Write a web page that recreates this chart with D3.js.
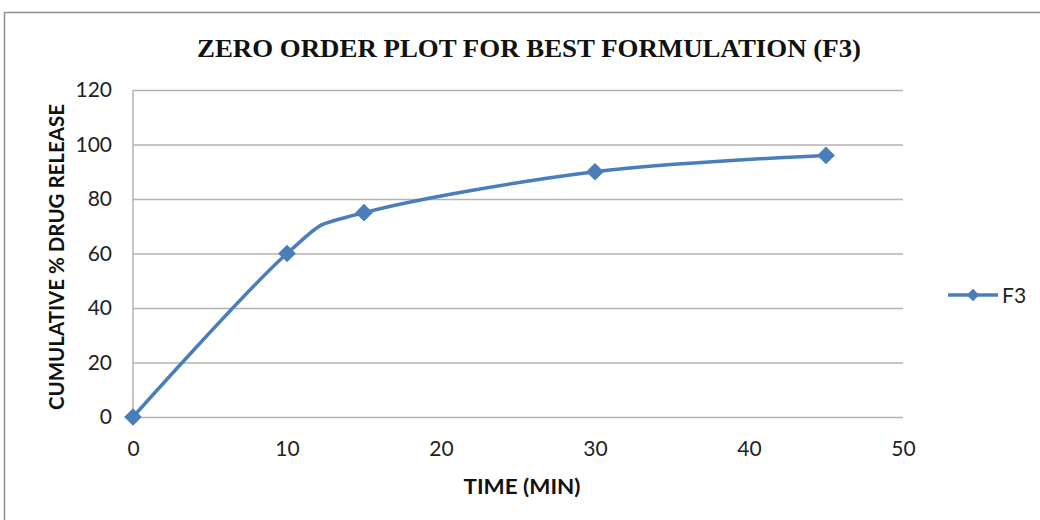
<!DOCTYPE html>
<html>
<head>
<meta charset="utf-8">
<script src="https://cdn.jsdelivr.net/npm/d3@7"></script>
<style>
  html, body { margin: 0; padding: 0; background: #fff; }
  svg { display: block; }
</style>
</head>
<body>
<svg id="chart" width="1040" height="520"></svg>
<script>
// Release profile of formulation F3
const timeMin = [0, 10, 15, 30, 45];
const releasePct = [0, 60, 75, 90, 96];
const xTicks = [0, 10, 20, 30, 40, 50];
const yTicks = [0, 20, 40, 60, 80, 100, 120];
const seriesName = "F3";

const svg = d3.select("#chart");
const W = 1040, H = 520;
const plot = { left: 133, right: 903, top: 90, bottom: 417 };
const blue = "#4a7ebb";
const gridColor = "#b3b3b3";
const tickFont = "Lato, 'Open Sans', sans-serif";

svg.append("rect").attr("width", W).attr("height", H).attr("fill", "#fff");

// outer chart frame
svg.append("path")
  .attr("d", `M4.5,${H} L4.5,12.5 L${W},12.5`)
  .attr("fill", "none").attr("stroke", "#8c8c8c").attr("stroke-width", 1.5);

const x = d3.scaleLinear().domain([0, 50]).range([plot.left, plot.right]);
const y = d3.scaleLinear().domain([0, 120]).range([plot.bottom, plot.top]);

// horizontal gridlines
svg.append("g")
  .attr("transform", `translate(${plot.left},0)`)
  .call(d3.axisLeft(y).tickValues(yTicks).tickSize(-(plot.right - plot.left)).tickFormat(""))
  .call(g => g.select(".domain").remove())
  .call(g => g.selectAll("line").attr("stroke", gridColor).attr("stroke-width", 1.5));

// vertical axis line
svg.append("line")
  .attr("x1", plot.left).attr("x2", plot.left)
  .attr("y1", plot.top).attr("y2", plot.bottom)
  .attr("stroke", gridColor).attr("stroke-width", 1.5);

// y tick labels
svg.append("g")
  .attr("transform", `translate(${plot.left - 21},0)`)
  .call(d3.axisLeft(y).tickValues(yTicks).tickSize(0).tickPadding(0))
  .call(g => g.select(".domain").remove())
  .call(g => g.selectAll("text")
    .attr("font-family", tickFont).attr("font-size", 21).attr("fill", "#222"));

// x tick labels
svg.append("g")
  .attr("transform", `translate(0,${plot.bottom + 24})`)
  .call(d3.axisBottom(x).tickValues(xTicks).tickSize(0).tickPadding(0))
  .call(g => g.select(".domain").remove())
  .call(g => g.selectAll("text")
    .attr("font-family", tickFont).attr("font-size", 21).attr("fill", "#222"));

// title
svg.append("text")
  .attr("x", 529).attr("y", 57)
  .attr("text-anchor", "middle")
  .attr("font-family", "'Liberation Serif', 'Times New Roman', serif")
  .attr("font-weight", "bold").attr("font-size", 26)
  .attr("textLength", 664).attr("lengthAdjust", "spacingAndGlyphs")
  .attr("fill", "#111")
  .text("ZERO ORDER PLOT FOR BEST FORMULATION (F3)");

// axis titles
svg.append("text")
  .attr("x", 522).attr("y", 494)
  .attr("text-anchor", "middle")
  .attr("font-family", tickFont).attr("font-weight", "bold").attr("font-size", 20)
  .attr("textLength", 117).attr("lengthAdjust", "spacingAndGlyphs")
  .attr("fill", "#111")
  .text("TIME (MIN)");

svg.append("text")
  .attr("transform", "translate(64,257) rotate(-90)")
  .attr("text-anchor", "middle")
  .attr("font-family", tickFont).attr("font-weight", "bold").attr("font-size", 20)
  .attr("textLength", 306).attr("lengthAdjust", "spacingAndGlyphs")
  .attr("fill", "#111")
  .text("CUMULATIVE % DRUG RELEASE");

// data series
const pts = timeMin.map((t, i) => [t, releasePct[i]]);
const line = d3.line()
  .x(d => x(d[0])).y(d => y(d[1]))
  .curve(d3.curveCatmullRom.alpha(0));

svg.append("path")
  .datum(pts)
  .attr("d", line)
  .attr("fill", "none").attr("stroke", blue).attr("stroke-width", 3.5)
  .attr("stroke-linejoin", "round");

const diamond = d3.symbol().type(d3.symbolDiamond2).size(200);
svg.append("g").selectAll("path")
  .data(pts).join("path")
  .attr("transform", d => `translate(${x(d[0])},${y(d[1])})`)
  .attr("d", diamond)
  .attr("fill", blue);

// legend
const lg = svg.append("g").attr("transform", "translate(948,295)");
lg.append("line").attr("x1", 0).attr("x2", 50).attr("y1", 0).attr("y2", 0)
  .attr("stroke", blue).attr("stroke-width", 3.5);
lg.append("path").attr("transform", "translate(25,0)")
  .attr("d", d3.symbol().type(d3.symbolDiamond2).size(100)).attr("fill", blue);
lg.append("text").attr("x", 54).attr("y", 8)
  .attr("font-family", tickFont).attr("font-size", 21).attr("fill", "#222")
  .text(seriesName);
</script>
</body>
</html>
